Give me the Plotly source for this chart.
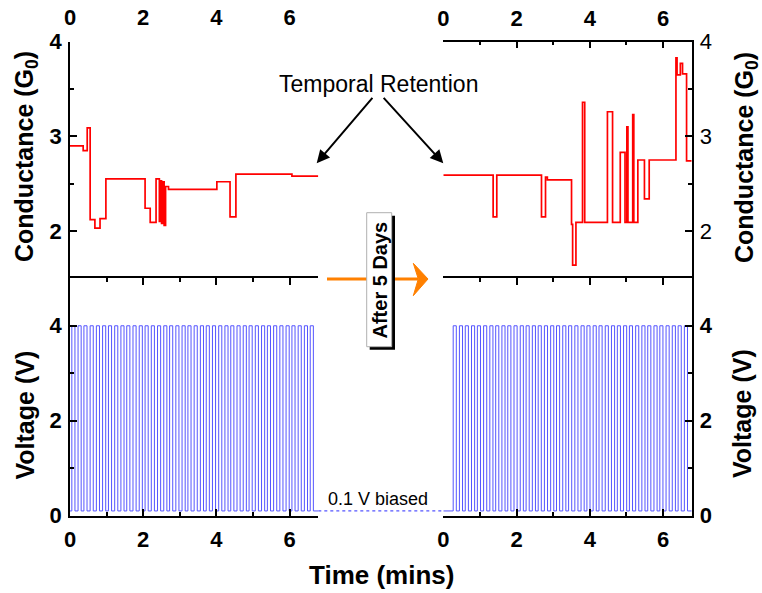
import plotly.graph_objects as go

# ---------------- data ----------------
# conductance (G0) step data, before and after 5 days
t_before = [0.00, 0.36, 0.47, 0.55, 0.68, 0.82, 0.98, 2.05, 2.19, 2.35, 2.44, 2.48,
            2.50, 2.53, 2.57, 2.61, 2.69, 4.01, 4.37, 4.53, 6.06, 6.78]
g_before = [2.90, 2.85, 3.09, 2.12, 2.03, 2.13, 2.55, 2.24, 2.09, 2.55, 2.10, 2.53,
            2.08, 2.52, 2.06, 2.47, 2.44, 2.52, 2.15, 2.60, 2.58, 2.58]

t_after = [0.00, 1.36, 1.46, 2.68, 2.79, 2.84, 3.50, 3.53, 3.62, 3.80, 3.86, 4.48,
           4.62, 4.83, 4.96, 5.01, 5.04, 5.17, 5.20, 5.31, 5.49, 5.62, 6.35, 6.38,
           6.47, 6.53, 6.64, 6.78]
g_after = [2.59, 2.15, 2.59, 2.15, 2.57, 2.54, 2.07, 1.64, 2.09, 3.36, 2.09, 3.26,
           2.09, 2.83, 2.09, 3.10, 2.09, 3.23, 2.09, 2.75, 2.34, 2.75, 3.83, 3.65,
           3.77, 3.66, 2.74, 2.74]

# voltage pulse train: start time of each pulse (min)
pulse_start_before = [0.05, 0.22, 0.38, 0.55, 0.72, 0.89, 1.05, 1.22, 1.39, 1.55,
                      1.72, 1.89, 2.05, 2.22, 2.39, 2.56, 2.72, 2.89, 3.06, 3.22,
                      3.39, 3.56, 3.72, 3.89, 4.06, 4.23, 4.39, 4.56, 4.73, 4.89,
                      5.06, 5.23, 5.39, 5.56, 5.73, 5.90, 6.06, 6.23, 6.40, 6.56]
pulse_start_after = [0.27, 0.44, 0.60, 0.77, 0.93, 1.10, 1.27, 1.43, 1.60, 1.76,
                     1.93, 2.10, 2.26, 2.43, 2.59, 2.76, 2.93, 3.09, 3.26, 3.42,
                     3.59, 3.76, 3.92, 4.09, 4.25, 4.42, 4.59, 4.75, 4.92, 5.08,
                     5.25, 5.42, 5.58, 5.75, 5.91, 6.08, 6.25, 6.41, 6.58]
pulse_width = 0.085
v_high = 4.0
v_low = 0.1          # 0.1 V bias
t_end = 6.78

x_range = [0, 6.78]
g_range = [1.5, 4]
v_range = [0, 5]

# ---------------- build ----------------
def pulse_train(starts):
    xs, ys = [0.0], [v_low]
    for s in starts:
        xs += [s, s, s + pulse_width, s + pulse_width]
        ys += [v_low, v_high, v_high, v_low]
    xs.append(t_end)
    ys.append(v_low)
    return xs, ys

vb_x, vb_y = pulse_train(pulse_start_before)
va_x, va_y = pulse_train(pulse_start_after)

FONT = "Liberation Sans, Arial, Helvetica, sans-serif"
W, H = 762, 593
def px(x):
    return x / W
def py(y):
    return 1 - y / H

XL = [px(70), px(318.3)]
XR = [px(443.3), px(691.7)]
YT = [py(278.3), py(41.7)]
YB = [py(515.7), py(278.3)]

RED = "#ff0000"
BLUE = "rgb(85,85,255)"
ORANGE = "#ff8000"

fig = go.Figure()
fig.add_trace(go.Scatter(x=t_before, y=g_before, mode="lines", line=dict(color=RED, width=1.7, shape="hv"),
                         xaxis="x", yaxis="y", hoverinfo="skip"))
fig.add_trace(go.Scatter(x=t_after, y=g_after, mode="lines", line=dict(color=RED, width=1.7, shape="hv"),
                         xaxis="x2", yaxis="y2", hoverinfo="skip"))
fig.add_trace(go.Scatter(x=vb_x, y=vb_y, mode="lines", line=dict(color=BLUE, width=1),
                         xaxis="x3", yaxis="y3", hoverinfo="skip"))
fig.add_trace(go.Scatter(x=va_x, y=va_y, mode="lines", line=dict(color=BLUE, width=1),
                         xaxis="x4", yaxis="y4", hoverinfo="skip"))

bold_tick = dict(family=FONT, size=22, color="black", weight="bold")
reg_tick = dict(family=FONT, size=22, color="black")

def xax(domain, anchor, side, showline=True, ticks="inside", labels=True, mirror=False,
        overlaying=None, standoff=0):
    d = dict(domain=domain, anchor=anchor, side=side, range=x_range, dtick=2, tick0=0,
             showgrid=False, zeroline=False, showline=showline, linecolor="black", linewidth=1.5,
             ticks=ticks, ticklen=7, tickwidth=1.5, tickcolor="black",
             showticklabels=labels, tickfont=bold_tick, mirror=mirror,
             ticklabelstandoff=standoff, automargin=False)
    if ticks:
        d["minor"] = dict(dtick=1, tick0=0, ticks=ticks, ticklen=4, tickwidth=1.5, tickcolor="black")
    if overlaying:
        d["overlaying"] = overlaying
    return d

def yax(domain, anchor, side, rng, dtick, mdtick, font, standoff=0):
    return dict(domain=domain, anchor=anchor, side=side, range=rng, dtick=dtick, tick0=0,
                showgrid=False, zeroline=False, showline=True, linecolor="black", linewidth=1.5,
                ticks="inside", ticklen=7, tickwidth=1.5, tickcolor="black",
                minor=dict(dtick=mdtick, tick0=0, ticks="inside", ticklen=4, tickwidth=1.5, tickcolor="black"),
                tickfont=font, ticklabelstandoff=standoff, automargin=False)

fig.update_layout(
    width=W, height=H, autosize=False,
    margin=dict(l=0, r=0, t=0, b=0, pad=0),
    paper_bgcolor="white", plot_bgcolor="white",
    showlegend=False, font=dict(family=FONT, color="black"),
    xaxis=xax(XL, "y", "top", showline=False, ticks="", standoff=11),
    xaxis2=xax(XR, "y2", "top", standoff=5),
    xaxis3=xax(XL, "y3", "bottom", mirror="ticks", standoff=3),
    xaxis4=xax(XR, "y4", "bottom", mirror="ticks", standoff=3),
    xaxis5=xax(XL, "y", "bottom", labels=False, overlaying="x"),
    xaxis6=xax(XR, "y2", "bottom", labels=False, overlaying="x2"),
    yaxis=yax(YT, "x", "left", g_range, 1, 0.5, bold_tick, standoff=2),
    yaxis2=yax(YT, "x2", "right", g_range, 1, 0.5, reg_tick, standoff=2),
    yaxis3=yax(YB, "x3", "left", v_range, 2, 1, bold_tick, standoff=2),
    yaxis4=yax(YB, "x4", "right", v_range, 2, 1, bold_tick, standoff=2),
)

# shapes: orange "after 5 days" arrow, label box, 0.1 V bias dashed line
shapes = [
    dict(type="line", xref="paper", yref="paper", x0=px(327), x1=px(418), y0=py(279), y1=py(279),
         line=dict(color=ORANGE, width=3)),
    dict(type="path", xref="paper", yref="paper",
         path=f"M {px(428)},{py(279)} L {px(413.3)},{py(263.3)} L {px(418.3)},{py(279)} "
              f"L {px(413.3)},{py(295.7)} Z",
         fillcolor=ORANGE, line=dict(color=ORANGE, width=1)),
    dict(type="rect", xref="paper", yref="paper", x0=px(369.7), x1=px(395), y0=py(349.7), y1=py(215.7),
         fillcolor="black", line=dict(width=0)),
    dict(type="rect", xref="paper", yref="paper", x0=px(366.7), x1=px(391.7), y0=py(346.7), y1=py(212.7),
         fillcolor="white", line=dict(color="#b0b0b0", width=1)),
    dict(type="line", xref="paper", yref="y3", x0=px(318.3), x1=px(443.3), y0=v_low, y1=v_low,
         line=dict(color=BLUE, width=1.2, dash="3px,3px")),
]
fig.update_layout(shapes=shapes)

ann = []
def rot_title(text, x, y):
    return dict(text=f"<b>{text}</b>", x=x, y=y, xref="paper", yref="paper", showarrow=False,
                textangle=-90, font=dict(family=FONT, size=25, color="black"),
                xanchor="center", yanchor="middle")
ann.append(rot_title("Conductance (G<sub>0</sub>)", px(26), py(157)))
ann.append(rot_title("Conductance (G<sub>0</sub>)", px(746), py(158)))
ann.append(rot_title("Voltage (V)", px(24.5), py(415)))
ann.append(rot_title("Voltage (V)", px(742), py(414)))
ann.append(dict(text="<b>Time (mins)</b>", x=px(381), y=py(575), xref="paper", yref="paper",
                xanchor="center", yanchor="middle",
                showarrow=False, font=dict(family=FONT, size=26, color="black")))
ann.append(dict(text="Temporal Retention", x=px(378), y=py(84), xref="paper", yref="paper",
                xanchor="center", yanchor="middle",
                showarrow=False, font=dict(family=FONT, size=23, color="black")))
ann.append(dict(text="", x=px(316.7), y=py(163.3), xref="paper", yref="paper", showarrow=True,
                ax=57, ay=-67, arrowhead=2, arrowsize=1.3, arrowwidth=2, arrowcolor="black"))
ann.append(dict(text="", x=px(443.3), y=py(163.3), xref="paper", yref="paper", showarrow=True,
                ax=-61, ay=-67, arrowhead=2, arrowsize=1.3, arrowwidth=2, arrowcolor="black"))
ann.append(dict(text="0.1 V biased", x=px(378.3), y=py(499), xref="paper", yref="paper",
                xanchor="center", yanchor="middle",
                showarrow=False, font=dict(family=FONT, size=18, color="black")))
ann.append(dict(text="<b>After 5 Days</b>", x=px(379.5), y=py(280), xref="paper", yref="paper",
                xanchor="center", yanchor="middle",
                showarrow=False, textangle=-90, font=dict(family=FONT, size=20, color="black")))
fig.update_layout(annotations=ann)

fig.write_html("out.html")
